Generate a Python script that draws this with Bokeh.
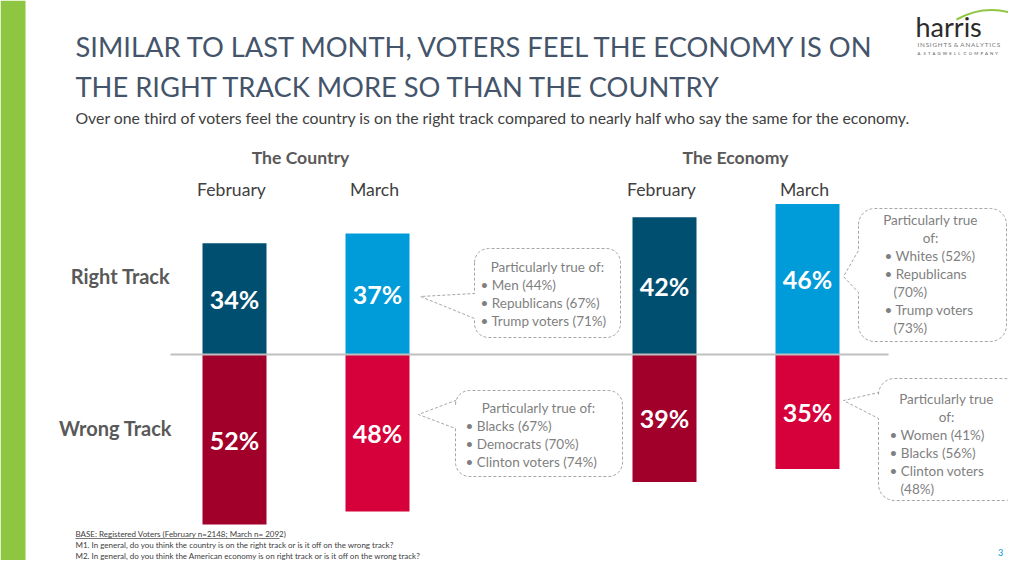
import math
from bokeh.plotting import figure
from bokeh.models import Range1d
from bokeh.core.properties import value
from bokeh.embed import file_html
from bokeh.resources import INLINE

# ---------------- data ----------------
groups = ["The Country", "The Economy"]
months = ["February", "March"]
right_track = [34, 37, 42, 46]   # Country Feb, Country Mar, Economy Feb, Economy Mar
wrong_track = [52, 48, 39, 35]
row_labels = ["Right Track", "Wrong Track"]
callout_texts = [
    ["Particularly true of:", "\u2022 Men (44%)", "\u2022 Republicans (67%)", "\u2022 Trump voters (71%)"],
    ["Particularly true", "of:", "\u2022 Whites (52%)", "\u2022 Republicans", "(70%)", "\u2022 Trump voters", "(73%)"],
    ["Particularly true of:", "\u2022 Blacks (67%)", "\u2022 Democrats (70%)", "\u2022 Clinton voters (74%)"],
    ["Particularly true", "of:", "\u2022 Women (41%)", "\u2022 Blacks (56%)", "\u2022 Clinton voters", "(48%)"],
]
title_lines = ["SIMILAR TO LAST MONTH, VOTERS FEEL THE ECONOMY IS ON",
               "THE RIGHT TRACK MORE SO THAN THE COUNTRY"]
subtitle = "Over one third of voters feel the country is on the right track compared to nearly half who say the same for the economy."
footnotes = ["BASE: Registered Voters (February n=2148; March n= 2092)",
             "M1. In general, do you think the country is on the right track or is it off on the wrong track?",
             "M2. In general, do you think the American economy is on right track or is it off on the wrong track?"]

# ---------------- styles ----------------
FONT = "Lato"
RIGHT_COLORS = ["#014f70", "#009bd9"]
WRONG_COLORS = ["#a1002b", "#d6003a"]
TITLE_C = "#44546A"
DARK = "#404040"
GREY = "#7f7f7f"

PX_PER_PCT = 3.27
BASE_PX = 354
W, H = 1008, 560
p = figure(width=W, height=H, output_backend="svg", toolbar_location=None,
           x_range=Range1d(0, W),
           y_range=Range1d(-(H - BASE_PX) / PX_PER_PCT, BASE_PX / PX_PER_PCT),
           min_border=0, min_border_left=0, min_border_right=0,
           min_border_top=0, min_border_bottom=0)
p.extra_y_ranges = {"px": Range1d(H, 0)}
p.axis.visible = False
p.grid.visible = False
p.outline_line_color = None
p.background_fill_color = "white"
p.border_fill_color = "white"

# green side strip
p.quad(left=0, right=25, top=0, bottom=H, y_range_name="px", color="#8fc641", line_color=None)


def txt(x, y, s, size, color=DARK, bold=False, align="left", font=FONT, **kw):
    p.text(x=[x], y=[y], text=[s], y_range_name="px", text_font=value(font),
           text_font_size=f"{size}px", text_color=color,
           text_font_style="bold" if bold else "normal",
           text_align=align, text_baseline="middle", **kw)


# title / subtitle
txt(75, 46, title_lines[0], 27.3, TITLE_C)
txt(75, 86, title_lines[1], 27.3, TITLE_C)
txt(75, 117, subtitle, 15.8, DARK)

# logo
txt(915, 26, "harris", 27, "#2b2b2b")
sp = "\u2009"
txt(917, 44, sp.join("INSIGHTS") + "\u00a0" + sp + "&" + sp + "\u00a0" + sp.join("ANALYTICS"), 6.3, "#777777")
txt(917, 53, "\u00a0\u00a0".join("A") + "\u00a0\u00a0\u00a0" + "\u00a0\u00a0".join("STAGWELL") + "\u00a0\u00a0\u00a0" + "\u00a0\u00a0".join("COMPANY"), 4.3, "#555555")
p.quadratic(x0=[956], y0=[19], cx=[985], cy=[3], x1=[1016], y1=[14],
            y_range_name="px", line_color="#8fc641", line_width=2)

# bars
xs, rt, wt, rc, wc = [], [], [], [], []
for g in range(len(groups)):
    for m in range(len(months)):
        i = g * len(months) + m
        xs.append(234 + 430 * g + 143 * m)
        rt.append(right_track[i])
        wt.append(-wrong_track[i])
        rc.append(RIGHT_COLORS[m])
        wc.append(WRONG_COLORS[m])

p.vbar(x=xs, bottom=0, top=rt, width=64, fill_color=rc, line_color=None)
p.vbar(x=xs, bottom=wt, top=0, width=64, fill_color=wc, line_color=None)
p.segment(x0=[170], x1=[888], y0=[0], y1=[0], line_color="#bfbfbf", line_width=2)

# bar labels (centred in each bar)
p.text(x=xs, y=[v / 2 for v in rt], text=[f"{v}%" for v in right_track],
       text_font=value(FONT), text_font_size="25px", text_font_style="bold",
       text_color="white", text_align="center", text_baseline="middle")
p.text(x=xs, y=[v / 2 for v in wt], text=[f"{v}%" for v in wrong_track],
       text_font=value(FONT), text_font_size="25px", text_font_style="bold",
       text_color="white", text_align="center", text_baseline="middle")

# headers
for g, name in enumerate(groups):
    txt(300 + 435 * g, 157, name, 17.6, "#595959", bold=True, align="center")
for i, x in enumerate(xs):
    txt(x - 3, 189, months[i % 2], 17.6, DARK, align="center")

txt(120, 275, row_labels[0], 20, "#595959", bold=True, align="center")
txt(115, 427, row_labels[1], 20, "#595959", bold=True, align="center")


# callouts
def callout(x0, y0, x1, y1, r, tip, py0, py1):
    px, py = [], []

    def arc(cx, cy, a0, a1):
        for k in range(9):
            a = math.radians(a0 + (a1 - a0) * k / 8)
            px.append(cx + r * math.cos(a))
            py.append(cy + r * math.sin(a))
    arc(x0 + r, y0 + r, 180, 270)
    arc(x1 - r, y0 + r, 270, 360)
    arc(x1 - r, y1 - r, 0, 90)
    arc(x0 + r, y1 - r, 90, 180)
    px += [x0, tip[0], x0]
    py += [py1, tip[1], py0]
    p.patch(px, py, y_range_name="px", fill_color="white", line_color="#a6a6a6",
            line_dash="3 2", line_width=1)


callout(474, 248, 620, 337, 14, (420, 296), 293, 318)
callout(858, 208, 1006, 341, 16, (843, 276), 250, 292)
callout(455, 390, 622, 476, 14, (418, 414), 400, 428)
callout(878, 378, 1020, 500, 16, (843, 400), 392, 418)

LH = 18
FS = 13.5
# callout 1
t = callout_texts[0]
txt(547, 266, t[0], FS, GREY, align="center")
for k in range(1, 4):
    txt(480, 266 + LH * k, t[k], FS, GREY)
# callout 2
t = callout_texts[1]
txt(930, 219, t[0], FS, GREY, align="center")
txt(930, 237, t[1], FS, GREY, align="center")
for k, s in enumerate(t[2:]):
    txt(884 if s.startswith("\u2022") else 893, 255 + LH * k, s, FS, GREY)
# callout 3
t = callout_texts[2]
txt(538, 407, t[0], FS, GREY, align="center")
for k in range(1, 4):
    txt(465, 407 + LH * k, t[k], FS, GREY)
# callout 4
t = callout_texts[3]
txt(946, 398, t[0], FS, GREY, align="center")
txt(946, 416, t[1], FS, GREY, align="center")
for k, s in enumerate(t[2:]):
    txt(889 if s.startswith("\u2022") else 900, 434 + LH * k, s, FS, GREY)

# footnotes
for k, s in enumerate(footnotes):
    txt(75, 533 + 11 * k, s, 8, DARK)
p.segment(x0=[75], x1=[279], y0=[538], y1=[538], y_range_name="px", line_color=DARK, line_width=0.7)

txt(1000, 552, "3", 9, "#0099d8", align="center")

open("out.html", "w").write(file_html(p, INLINE))
